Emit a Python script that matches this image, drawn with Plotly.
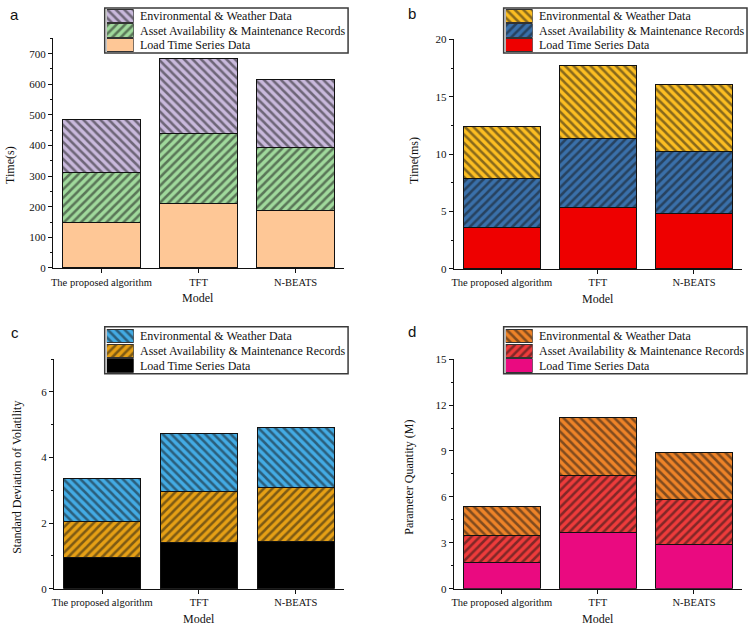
import plotly.graph_objects as go

models = ["The proposed algorithm", "TFT", "N-BEATS"]
series_names = ["Load Time Series Data", "Asset Availability & Maintenance Records", "Environmental & Weather Data"]

# Panel a: Time(s)
a_load = [148, 211, 188]
a_asset = [163, 228, 204]
a_env = [175, 246, 222]
# Panel b: Time(ms)
b_load = [3.62, 5.36, 4.85]
b_asset = [4.25, 5.97, 5.36]
b_env = [4.54, 6.36, 5.82]
# Panel c: Standard Deviation of Volatility
c_load = [0.95, 1.40, 1.45]
c_asset = [1.10, 1.55, 1.64]
c_env = [1.30, 1.77, 1.82]
# Panel d: Parameter Quantity (M)
d_load = [1.73, 3.65, 2.91]
d_asset = [1.77, 3.72, 2.94]
d_env = [1.86, 3.81, 3.06]

W, H = 750, 630
def px(x): return x / W
def py(y): return 1 - y / H

SERIF = "Liberation Serif"
SANS = "Liberation Sans"
INK = "#111111"

panels = [
    dict(key="a", data=[a_load, a_asset, a_env], colors=["#FEC796", "#A0D99C", "#C9B9DC"],
         ytitle="Time(s)", yrange=[0, 750], dtick=100, minor=50,
         xdom=[51, 343], ydom=[267, 33], box=(103, 347, 2, 48), sw=(105, 132, 3, 47),
         letter=(13, 9), ytitle_pos=(8, 162)),
    dict(key="b", data=[b_load, b_asset, b_env], colors=["#EE0000", "#3A70AA", "#FCBE22"],
         ytitle="Time(ms)", yrange=[0, 20], dtick=5, minor=2.5,
         xdom=[453, 742], ydom=[268, 34], box=(503, 747, 2, 48), sw=(505, 532, 3, 47),
         letter=(411, 8), ytitle_pos=(413, 157)),
    dict(key="c", data=[c_load, c_asset, c_env], colors=["#000000", "#E6A015", "#43ABE4"],
         ytitle="Standard Deviation of Volatility", yrange=[0, 7], dtick=2, minor=1,
         xdom=[52, 343], ydom=[594, 360], box=(103, 347, 327, 375), sw=(105, 132, 329, 374),
         letter=(13, 333), ytitle_pos=(15, 480)),
    dict(key="d", data=[d_load, d_asset, d_env], colors=["#EA0A80", "#EE3B3B", "#EE8328"],
         ytitle="Parameter Quantity (M)", yrange=[0, 15], dtick=3, minor=1.5,
         xdom=[453, 742], ydom=[594, 360], box=(503, 747, 327, 375), sw=(505, 532, 329, 374),
         letter=(411, 332), ytitle_pos=(408, 480)),
]

shapes_pat = ["", "/", "\\"]

fig = go.Figure()
annotations = []
shapes = []
layout = {}
for i, p in enumerate(panels):
    n = "" if i == 0 else str(i + 1)
    ln = str(i + 5)
    for j in range(3):
        fig.add_trace(go.Bar(
            x=models, y=p["data"][j], name=series_names[j],
            xaxis="x" + n, yaxis="y" + n, showlegend=False,
            marker=dict(color=p["colors"][j], line=dict(color=INK, width=1),
                        pattern=dict(shape=shapes_pat[j], fgcolor="#141414",
                                     bgcolor=p["colors"][j], size=6, solidity=0.42)),
        ))
        # legend swatch (custom legend)
        fig.add_trace(go.Bar(
            x=[1], y=[j], orientation="h", width=0.92,
            xaxis="x" + ln, yaxis="y" + ln, showlegend=False, hoverinfo="skip",
            marker=dict(color=p["colors"][j], line=dict(color="#333333", width=1),
                        pattern=dict(shape=shapes_pat[j], fgcolor="#141414",
                                     bgcolor=p["colors"][j], size=6, solidity=0.42)),
        ))
    sl, sr, st, sb = p["sw"]
    layout["xaxis" + ln] = dict(domain=[px(sl), px(sr)], anchor="y" + ln, range=[0, 1],
                                visible=False, fixedrange=True)
    layout["yaxis" + ln] = dict(domain=[py(sb), py(st)], anchor="x" + ln, range=[-0.5, 2.5],
                                visible=False, fixedrange=True)
    bl, br, bt, bb = p["box"]
    shapes.append(dict(type="rect", xref="paper", yref="paper",
                       x0=px(bl), x1=px(br), y0=py(bb), y1=py(bt),
                       line=dict(color="#3a3a3a", width=1.5), layer="above"))
    row_h = (sb - st) / 3
    for j in range(3):
        yc = sb - row_h * (j + 0.5)
        annotations.append(dict(text=series_names[j], x=px(sr + 4), y=py(yc),
                                xref="paper", yref="paper", showarrow=False,
                                xanchor="left", yanchor="middle",
                                font=dict(family=SERIF, size=12, color=INK)))

    layout["xaxis" + n] = dict(
        domain=[px(p["xdom"][0]), px(p["xdom"][1])], anchor="y" + n,
        range=[-0.5, 2.5], showline=True, linecolor=INK, linewidth=1,
        ticks="outside", ticklen=4, tickcolor=INK, showgrid=False, zeroline=False,
        tickfont=dict(family=SERIF, size=10.5, color=INK),
    )
    layout["yaxis" + n] = dict(
        domain=[py(p["ydom"][0]), py(p["ydom"][1])], anchor="x" + n,
        range=p["yrange"], dtick=p["dtick"], tick0=0, showline=True, linecolor=INK,
        linewidth=1, ticks="outside", ticklen=4, tickcolor=INK, showgrid=False,
        zeroline=False, tickfont=dict(family=SERIF, size=11, color=INK),
        minor=dict(ticks="outside", ticklen=2, dtick=p["minor"], tick0=0, tickcolor=INK, showgrid=False),
    )
    annotations.append(dict(text=p["key"], x=px(p["letter"][0]), y=py(p["letter"][1]),
                            xref="paper", yref="paper", showarrow=False,
                            xanchor="center", yanchor="middle",
                            font=dict(family=SANS, size=15, color=INK)))
    annotations.append(dict(text=p["ytitle"], x=px(p["ytitle_pos"][0]), y=py(p["ytitle_pos"][1]),
                            xref="paper", yref="paper", showarrow=False, textangle=-90,
                            xanchor="center", yanchor="middle",
                            font=dict(family=SERIF, size=12, color=INK)))
    xc = (p["xdom"][0] + p["xdom"][1]) / 2
    annotations.append(dict(text="Model", x=px(xc), y=py(p["ydom"][0] + 31),
                            xref="paper", yref="paper", showarrow=False,
                            xanchor="center", yanchor="middle",
                            font=dict(family=SERIF, size=12, color=INK)))

fig.update_layout(
    width=W, height=H, margin=dict(l=0, r=0, t=0, b=0),
    paper_bgcolor="white", plot_bgcolor="rgba(0,0,0,0)",
    barmode="stack", bargap=0.2, showlegend=False,
    annotations=annotations, shapes=shapes, **layout,
)
fig.write_html("out.html")
